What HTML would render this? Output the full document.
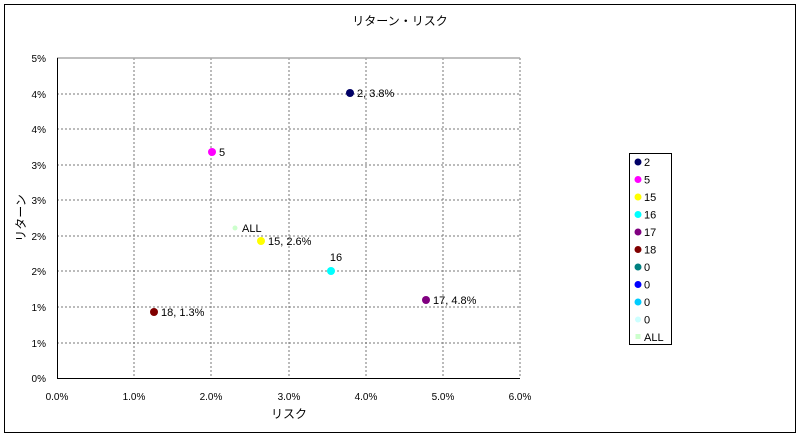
<!DOCTYPE html>
<html><head><meta charset="utf-8"><style>
body{margin:0;background:#fff}
svg{display:block;font-family:"Liberation Sans","Noto Sans CJK JP",sans-serif}
</style></head><body>
<svg width="800" height="437" viewBox="0 0 800 437">
<rect x="4.5" y="4.5" width="791" height="428" fill="#fff" stroke="#000"/>
<text x="400" y="25" font-size="12" text-anchor="middle">リターン・リスク</text>
<g stroke="#777" stroke-dasharray="2,2">
<line x1="134" y1="58" x2="134" y2="378"/><line x1="211" y1="58" x2="211" y2="378"/>
<line x1="289" y1="58" x2="289" y2="378"/><line x1="366" y1="58" x2="366" y2="378"/>
<line x1="443" y1="58" x2="443" y2="378"/><line x1="520" y1="58" x2="520" y2="378"/>
<line x1="57" y1="94" x2="520" y2="94"/><line x1="57" y1="129" x2="520" y2="129"/>
<line x1="57" y1="165" x2="520" y2="165"/><line x1="57" y1="200" x2="520" y2="200"/>
<line x1="57" y1="236" x2="520" y2="236"/><line x1="57" y1="271" x2="520" y2="271"/>
<line x1="57" y1="307" x2="520" y2="307"/><line x1="57" y1="343" x2="520" y2="343"/>
</g>
<line x1="57" y1="58" x2="520" y2="58" stroke="#aaa" stroke-width="1.5"/>
<line x1="57.5" y1="58" x2="57.5" y2="378" stroke="#000"/>
<line x1="57" y1="378.5" x2="520" y2="378.5" stroke="#000"/>
<g font-size="10" text-anchor="end">
<text x="46" y="62">5%</text><text x="46" y="98">4%</text><text x="46" y="133">4%</text>
<text x="46" y="169">3%</text><text x="46" y="204">3%</text><text x="46" y="240">2%</text>
<text x="46" y="275">2%</text><text x="46" y="311">1%</text><text x="46" y="347">1%</text>
<text x="46" y="382">0%</text>
</g>
<g font-size="10" text-anchor="middle">
<text x="57" y="400">0.0%</text><text x="134" y="400">1.0%</text><text x="211" y="400">2.0%</text>
<text x="289" y="400">3.0%</text><text x="366" y="400">4.0%</text><text x="443" y="400">5.0%</text>
<text x="520" y="400">6.0%</text>
</g>
<text x="289" y="418" font-size="12" text-anchor="middle">リスク</text>
<text transform="translate(25,218) rotate(-90)" font-size="12" text-anchor="middle">リターン</text>
<g font-size="11">
<circle cx="350" cy="93" r="4" fill="#000066"/><text x="357" y="97">2, 3.8%</text>
<circle cx="212" cy="152" r="4" fill="#ff00ff"/><text x="219" y="156">5</text>
<circle cx="235" cy="228" r="2.5" fill="#ccffcc"/><text x="242" y="232">ALL</text>
<circle cx="261" cy="241" r="4" fill="#ffff00"/><text x="268" y="245">15, 2.6%</text>
<circle cx="331" cy="271" r="4" fill="#00ffff"/><text x="336" y="261" text-anchor="middle">16</text>
<circle cx="426" cy="300" r="4" fill="#800080"/><text x="433" y="304">17, 4.8%</text>
<circle cx="154" cy="312" r="4" fill="#800000"/><text x="161" y="316">18, 1.3%</text>
</g>
<rect x="629.5" y="153.5" width="42" height="191" fill="#fff" stroke="#000"/>
<g font-size="11">
<circle cx="638" cy="162" r="3.5" fill="#000066"/><text x="644" y="166">2</text>
<circle cx="638" cy="179.5" r="3.5" fill="#ff00ff"/><text x="644" y="183.5">5</text>
<circle cx="638" cy="197" r="3.5" fill="#ffff00"/><text x="644" y="201">15</text>
<circle cx="638" cy="214.5" r="3.5" fill="#00ffff"/><text x="644" y="218.5">16</text>
<circle cx="638" cy="232" r="3.5" fill="#800080"/><text x="644" y="236">17</text>
<circle cx="638" cy="249.5" r="3.5" fill="#800000"/><text x="644" y="253.5">18</text>
<circle cx="638" cy="267" r="3.5" fill="#008080"/><text x="644" y="271">0</text>
<circle cx="638" cy="284.5" r="3.5" fill="#0000ff"/><text x="644" y="288.5">0</text>
<circle cx="638" cy="302" r="3.5" fill="#00ccff"/><text x="644" y="306">0</text>
<circle cx="638" cy="319.5" r="3" fill="#ccffff"/><text x="644" y="323.5">0</text>
<rect x="635.5" y="334" width="5" height="5" fill="#ccffcc"/><text x="644" y="341">ALL</text>
</g>
</svg>
</body></html>
